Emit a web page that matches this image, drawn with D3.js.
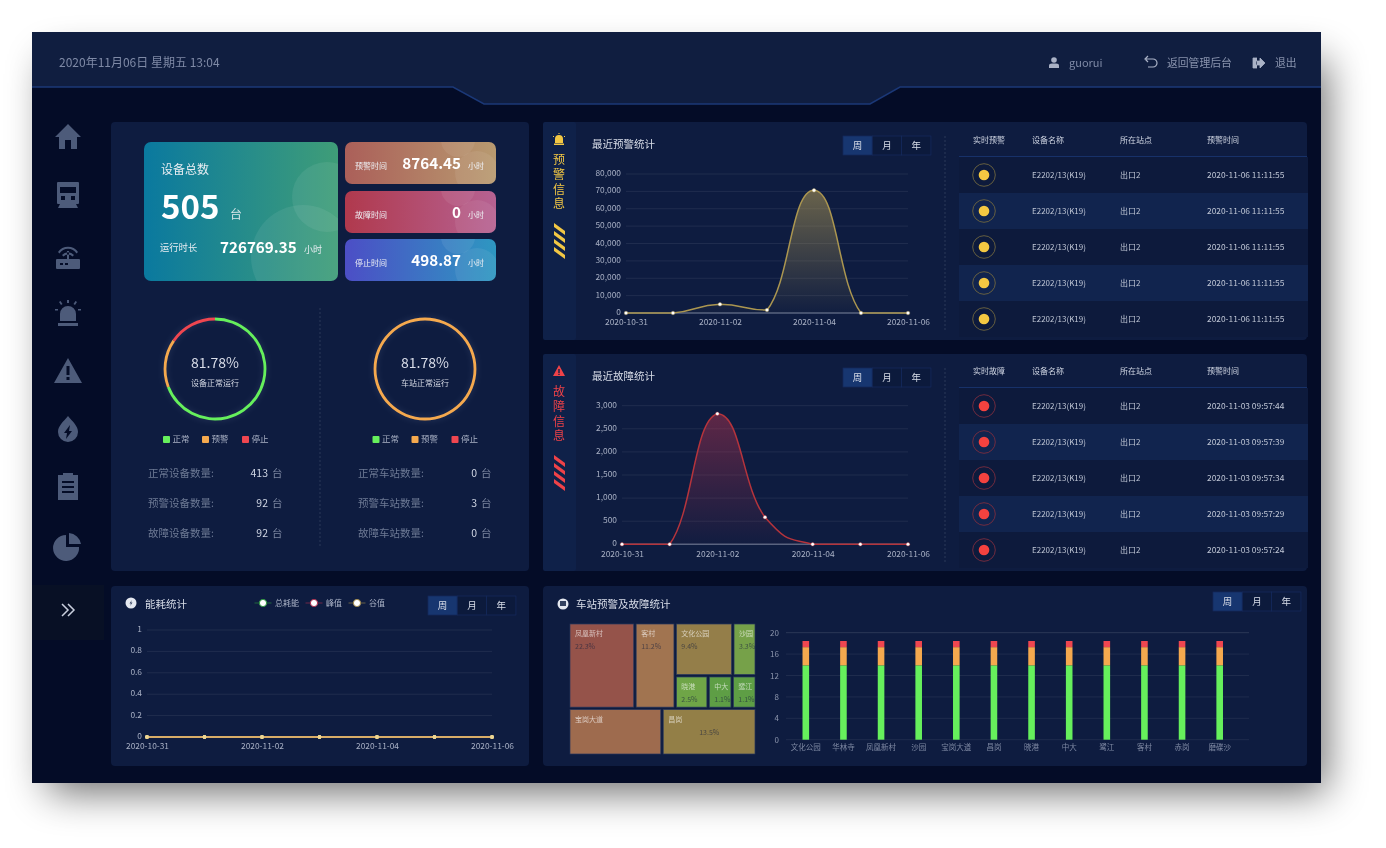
<!DOCTYPE html>
<html>
<head>
<meta charset="utf-8">
<script src="https://cdnjs.cloudflare.com/ajax/libs/d3/7.8.5/d3.min.js"></script>
<style>
html, body { margin: 0; background: #fff; overflow: hidden; }
svg { display: block; }
#page { filter: blur(0.5px); }
text { font-family: "Noto Sans CJK SC", "Noto Sans", sans-serif; }
</style>
</head>
<body>
<div id="root"></div>
<script>
const dates = ['2020-10-31', '2020-11-01', '2020-11-02', '2020-11-03', '2020-11-04', '2020-11-05', '2020-11-06'];
const dateTicks = ['2020-10-31', '2020-11-02', '2020-11-04', '2020-11-06'];

const alarmValues = [0, 0, 5000, 1700, 70600, 0, 0];
const faultValues = [0, 0, 2825, 585, 0, 0, 0];
const energyTotal = [0, 0, 0, 0, 0, 0, 0];
const energyPeak = [0, 0, 0, 0, 0, 0, 0];
const energyValley = [0, 0, 0, 0, 0, 0, 0];

const deviceStatus = [413, 92, 92];
const stationStatus = [0, 3, 0];
const statusNames = ['正常', '预警', '停止'];
const statusColors = ['#66f05c', '#f5a94e', '#ef4650'];

const deviceLabels = ['正常设备数量:', '预警设备数量:', '故障设备数量:'];
const stationLabels = ['正常车站数量:', '预警车站数量:', '故障车站数量:'];

const alarmTimes = ['2020-11-06 11:11:55', '2020-11-06 11:11:55', '2020-11-06 11:11:55', '2020-11-06 11:11:55', '2020-11-06 11:11:55'];
const faultTimes = ['2020-11-03 09:57:44', '2020-11-03 09:57:39', '2020-11-03 09:57:34', '2020-11-03 09:57:29', '2020-11-03 09:57:24'];

const stationNames = ['文化公园', '华林寺', '凤凰新村', '沙园', '宝岗大道', '昌岗', '晓港', '中大', '鹭江', '客村', '赤岗', '磨碟沙'];
const stackNormal = [13.9, 13.9, 13.9, 13.9, 13.9, 13.9, 13.9, 13.9, 13.9, 13.9, 13.9, 13.9];
const stackAlarm = [3.4, 3.4, 3.4, 3.4, 3.4, 3.4, 3.4, 3.4, 3.4, 3.4, 3.4, 3.4];
const stackStop = [1.15, 1.15, 1.15, 1.15, 1.15, 1.15, 1.15, 1.15, 1.15, 1.15, 1.15, 1.15];

// treemap: names, cell sizes as drawn, the percent written in each cell, fill
const treeNames = ['凤凰新村', '客村', '文化公园', '沙园', '晓港', '中大', '鹭江', '宝岗大道', '昌岗'];
const treeSizes = [5485, 3335, 2960, 1200, 1040, 760, 760, 4232, 4278];
const treePercents = ['22.3%', '11.2%', '9.4%', '3.3%', '2.5%', '1.1%', '1.1%', '', '13.5%'];
const treeColors = ['#95534a', '#a17450', '#947e49', '#76a149', '#6fa547', '#5e9e45', '#5e9e45', '#9e6b4e', '#937f47'];

const tickFont = 'Roboto, "Noto Sans", sans-serif';
const panelColor = '#0e1c40';
const iconColor = '#4d5b7a';

const svg = d3.select('#root').append('svg')
    .attr('width', 1386)
    .attr('height', 848);

const defs = svg.append('defs');

defs.append('filter').attr('id', 'shadow')
    .attr('x', '-15%').attr('y', '-20%').attr('width', '130%').attr('height', '140%')
    .append('feGaussianBlur').attr('stdDeviation', 20);
defs.append('filter').attr('id', 'glow')
    .attr('x', '-30%').attr('y', '-30%').attr('width', '160%').attr('height', '160%')
    .append('feGaussianBlur').attr('stdDeviation', 3);

function gradient(id, from, to, vertical) {
    const g = defs.append('linearGradient').attr('id', id)
        .attr('x1', 0).attr('y1', 0)
        .attr('x2', vertical ? 0 : 1).attr('y2', vertical ? 1 : 0);
    g.append('stop').attr('offset', 0).attr('stop-color', from[0]).attr('stop-opacity', from[1]);
    g.append('stop').attr('offset', 1).attr('stop-color', to[0]).attr('stop-opacity', to[1]);
}
gradient('cardMain', ['#0a799f', 1], ['#3f9d78', 1]);
gradient('cardAlarm', ['#ab5f59', 1], ['#b89a70', 1]);
gradient('cardFault', ['#b0394d', 1], ['#b66292', 1]);
gradient('cardStop', ['#4c4ec6', 1], ['#2e97c1', 1]);
gradient('areaAlarm', ['#b39c55', 0.55], ['#b39c55', 0.02], true);
gradient('areaFault', ['#c0354f', 0.45], ['#c0354f', 0.02], true);

// page frame: the shadow sits outside the slightly softened group
svg.append('rect').attr('x', 48).attr('y', 60).attr('width', 1278).attr('height', 732)
    .attr('fill', '#000').attr('opacity', 0.58).attr('filter', 'url(#shadow)');

const page = svg.append('g').attr('id', 'page');

function label(parent, x, y, str, size, color, anchor, weight) {
    return parent.append('text')
        .attr('x', x).attr('y', y)
        .attr('dy', '0.35em')
        .attr('font-size', size)
        .attr('fill', color)
        .attr('text-anchor', anchor || 'start')
        .attr('font-weight', weight || 400)
        .text(str);
}

function panel(x, y, w, h) {
    page.append('rect').attr('x', x).attr('y', y).attr('width', w).attr('height', h)
        .attr('rx', 4).attr('fill', panelColor);
}

page.append('rect').attr('x', 32).attr('y', 32).attr('width', 1289).attr('height', 751).attr('fill', '#040c27');

page.append('path')
    .attr('d', 'M32,32H1321V87H900L870,104H484L453,87H32Z')
    .attr('fill', '#101e40');
page.append('path')
    .attr('d', 'M32,87H453L484,104H870L900,87H1321')
    .attr('fill', 'none').attr('stroke', '#1b3877').attr('stroke-width', 1.5);

label(page, 59, 63, '2020年11月06日 星期五 13:04', 12, '#7f8aa6');

// header icons
const user = page.append('g').attr('transform', 'translate(1054,63)').attr('fill', '#aab2c6');
user.append('circle').attr('cy', -3).attr('r', 2.8);
user.append('path').attr('d', 'M-5,5V2.5Q-5,0.5 -2,0.5H2Q5,0.5 5,2.5V5Z');
label(page, 1069, 63, 'guorui', 11, '#7f8aa6');

page.append('path').attr('transform', 'translate(1151,63)')
    .attr('d', 'M-5,-4H2A4,4 0 0 1 2,4H-3M-3,-7L-6,-4L-3,-1')
    .attr('fill', 'none').attr('stroke', '#aab2c6').attr('stroke-width', 1.2);
label(page, 1167, 63, '返回管理后台', 10.8, '#8a94ae');

page.append('path').attr('transform', 'translate(1259,63)')
    .attr('d', 'M-2,-5H-6V5H-2M-3,-2H1V-5L6,0L1,5V2H-3Z')
    .attr('fill', '#aab2c6').attr('stroke', '#aab2c6').attr('stroke-width', 0.8);
label(page, 1275, 63, '退出', 10.8, '#8a94ae');

// sidebar icons
const icons = [
    { y: 137, d: 'M-13,0L0,-13L13,0H9V12H3V3H-3V12H-9V0Z' },
    { y: 195, d: 'M-10,-13H10Q11,-13 11,-12V8Q11,9 10,9H8L10,13H-10L-8,9H-10Q-11,9 -11,8V-12Q-11,-13 -10,-13ZM-8,-8V-2H8V-8ZM-7,1V5H-3V1ZM3,1V5H7V1Z' },
    { y: 255, d: 'M-11,4H11Q12,4 12,5V13Q12,14 11,14H-11Q-12,14 -12,13V5Q-12,4 -11,4ZM-8,8V10H-5V8ZM-3,8V10H0V8ZM-1,4V-4H1V4ZM-10,-3A12,12 0 0 1 10,-3L8.5,-1.5A10,10 0 0 0 -8.5,-1.5ZM-6,0A8,8 0 0 1 6,0L4.5,1.5A6,6 0 0 0 -4.5,1.5Z' },
    { y: 313, d: 'M-8,8V1A8,8 0 0 1 8,1V8ZM-10,10H10V13H-10ZM-1,-13H1V-10H-1ZM-13,-4H-10V-2.500H-13ZM10,-4H13V-2.500H10ZM-9,-11L-7.500,-12L-5.500,-9L-7,-8ZM9,-11L7.500,-12L5.500,-9L7,-8Z' },
    { y: 371, d: 'M0,-13L14,12H-14ZM-1.500,-5V4H1.500V-5ZM-1.500,6V9H1.500V6Z' },
    { y: 429, d: 'M0,-13C5,-7 10,-3 10,3A10,10 0 0 1 -10,3C-10,-3 -5,-7 0,-13ZM2,-4L-4,4H-1L-2,10L4,2H1Z' },
    { y: 487, d: 'M-10,-12H-5V-14H5V-12H10V13H-10ZM-6,-6V-4H6V-6ZM-6,-1V1H6V-1ZM-6,4V6H6V4Z' },
    { y: 546, d: 'M-2,-11V1H11A13,13 0 1 1 -2,-11ZM1,-13A13,13 0 0 1 13,-2H1Z' }
];
page.selectAll('path.nav').data(icons).enter().append('path')
    .attr('class', 'nav')
    .attr('transform', d => 'translate(68,' + d.y + ')')
    .attr('d', d => d.d)
    .attr('fill', iconColor)
    .attr('fill-rule', 'evenodd');

page.append('rect').attr('x', 32).attr('y', 585).attr('width', 72).attr('height', 55).attr('fill', '#081025');
page.append('path').attr('transform', 'translate(68,610)')
    .attr('d', 'M-6,-6L0,0L-6,6M0,-6L6,0L0,6')
    .attr('fill', 'none').attr('stroke', '#c9cfde').attr('stroke-width', 1.5);

// left panel
panel(111, 122, 418, 449);

function card(x, y, w, h, fill, circles) {
    const id = 'clip' + x + y;
    defs.append('clipPath').attr('id', id).append('rect')
        .attr('x', x).attr('y', y).attr('width', w).attr('height', h).attr('rx', 7);
    const g = page.append('g').attr('clip-path', 'url(#' + id + ')');
    g.append('rect').attr('x', x).attr('y', y).attr('width', w).attr('height', h).attr('fill', 'url(#' + fill + ')');
    circles.forEach(c => {
        g.append('circle').attr('cx', c[0]).attr('cy', c[1]).attr('r', c[2]).attr('fill', '#fff').attr('opacity', 0.07);
    });
}

card(144, 142, 194, 139, 'cardMain', [[327, 197, 35], [303, 257, 52]]);
label(page, 161, 170, '设备总数', 12, '#e8edf2');
page.append('text').attr('x', 161).attr('y', 219).attr('font-size', 33).attr('font-weight', 600).attr('fill', '#fff').text('505');
label(page, 230, 215, '台', 12, '#dce8ea');
label(page, 160, 248, '运行时长', 9.3, '#e8edf2');
label(page, 220, 248, '726769.35', 15.2, '#fff', 'start', 600);
label(page, 304, 250, '小时', 9, '#e8edf2');

const smallCards = [
    { y: 142, fill: 'cardAlarm', name: '预警时间', value: '8764.45' },
    { y: 191, fill: 'cardFault', name: '故障时间', value: '0' },
    { y: 239, fill: 'cardStop', name: '停止时间', value: '498.87' }
];
smallCards.forEach(c => {
    card(345, c.y, 151, 42, c.fill, [[458, c.y - 2, 17], [477, c.y + 31, 22]]);
    label(page, 355, c.y + 24, c.name, 8, '#eef0f4');
    label(page, 461, c.y + 22, c.value, 15.2, '#fff', 'end', 600);
    label(page, 468, c.y + 24, '小时', 8, '#eef0f4');
});

// rings and the numbers under them
function ring(cx, values, name) {
    const g = page.append('g').attr('transform', 'translate(' + cx + ',369)');
    const pie = d3.pie().sort(null);
    const arc = d3.arc().innerRadius(48.6).outerRadius(51.4);
    g.append('circle').attr('r', 50).attr('fill', 'none')
        .attr('stroke', '#8fa0c8').attr('stroke-width', 3).attr('opacity', 0.22).attr('filter', 'url(#glow)');
    g.selectAll('path').data(pie(values)).enter().append('path')
        .attr('d', arc)
        .attr('fill', (d, i) => statusColors[i]);
    label(g, 0, -6, '81.78%', 14, '#d8dce8', 'middle');
    label(g, 0, 14, name, 8, '#d4d9e4', 'middle');
}
ring(215, deviceStatus, '设备正常运行');
ring(425, stationStatus, '车站正常运行');

function statusLegend(dx) {
    const offsets = [163, 202, 242];
    statusNames.forEach((n, i) => {
        page.append('rect').attr('x', offsets[i] + dx).attr('y', 436).attr('width', 7).attr('height', 7)
            .attr('rx', 1).attr('fill', statusColors[i]);
        label(page, offsets[i] + dx + 9.5, 439, n, 8.5, '#a9b1c4');
    });
}
statusLegend(0);
statusLegend(209.5);

function statRows(labels, values, x, valueEnd) {
    const rowY = d3.scalePoint().domain(d3.range(labels.length)).range([473, 533]);
    labels.forEach((l, i) => {
        label(page, x, rowY(i), l, 10.5, '#6d7994');
        label(page, valueEnd, rowY(i), values[i], 10.5, '#d0d6e4', 'end');
        label(page, valueEnd + 4, rowY(i), '台', 10.5, '#7d88a2');
    });
}
statRows(deviceLabels, deviceStatus, 148, 268);
statRows(stationLabels, stationStatus, 358, 477);

page.append('line').attr('x1', 320).attr('x2', 320).attr('y1', 308).attr('y2', 548)
    .attr('stroke', '#2a3859').attr('stroke-dasharray', '2,2');

function buttons(x, y) {
    const names = ['周', '月', '年'];
    names.forEach((n, i) => {
        page.append('rect').attr('x', x + i * 29.3).attr('y', y).attr('width', 29.3).attr('height', 19)
            .attr('fill', i === 0 ? '#173670' : '#0c1a3c').attr('stroke', '#15295a').attr('stroke-width', 0.8);
        label(page, x + i * 29.3 + 14.6, y + 9.5, n, 9.5, '#d8dde8', 'middle');
    });
}

// smooth line in the manner of the original chart: half-way control points, clamped to the neighbours
function smoothPath(pts) {
    const p = d3.path();
    const clamp = (v, a, b) => Math.max(Math.min(a, b), Math.min(Math.max(a, b), v));
    const tan = i => {
        if (i === 0 || i === pts.length - 1) return [0, 0];
        return [(pts[i + 1][0] - pts[i - 1][0]) * 0.25, (pts[i + 1][1] - pts[i - 1][1]) * 0.25];
    };
    p.moveTo(pts[0][0], pts[0][1]);
    for (let i = 1; i < pts.length; i++) {
        const a = pts[i - 1], b = pts[i], ta = tan(i - 1), tb = tan(i);
        p.bezierCurveTo(a[0] + ta[0], clamp(a[1] + ta[1], a[1], b[1]),
            b[0] - tb[0], clamp(b[1] - tb[1], a[1], b[1]),
            b[0], b[1]);
    }
    return p.toString();
}

function gridAxes(x, y, yTicks, format, xLeft, xRight) {
    const gy = page.append('g').attr('transform', 'translate(' + (x.range()[0]) + ',-1.2)')
        .call(d3.axisLeft(y).tickValues(yTicks).tickFormat(format).tickSize(0).tickPadding(5));
    gy.select('.domain').remove();
    gy.selectAll('text').attr('fill', '#a8b0c4').attr('font-size', 8.4).attr('font-family', tickFont);
    yTicks.forEach(t => {
        page.append('line').attr('x1', xLeft).attr('x2', xRight).attr('y1', y(t)).attr('y2', y(t))
            .attr('stroke', t === 0 ? '#59637f' : '#ffffff')
            .attr('stroke-opacity', t === 0 ? 1 : 0.075)
            .attr('stroke-width', t === 0 ? 1.4 : 1);
    });
    const gx = page.append('g').attr('transform', 'translate(0,' + y(0) + ')')
        .call(d3.axisBottom(x).tickValues(dateTicks).tickSize(0).tickPadding(6.5));
    gx.select('.domain').remove();
    gx.selectAll('text').attr('fill', '#a8b0c4').attr('font-size', 8.4).attr('font-family', tickFont);
}

function areaChart(values, yMax, yStep, top, bottom, left, lineColor, areaId) {
    const x = d3.scalePoint().domain(dates).range([left, 908]);
    const y = d3.scaleLinear().domain([0, yMax]).range([bottom, top]);
    gridAxes(x, y, d3.range(0, yMax + 1, yStep), d3.format(','), left, 908);
    const pts = values.map((v, i) => [x(dates[i]), y(v)]);
    const line = smoothPath(pts);
    page.append('path')
        .attr('d', line + 'L' + x.range()[1] + ',' + y(0) + 'L' + x.range()[0] + ',' + y(0) + 'Z')
        .attr('fill', 'url(#' + areaId + ')');
    page.append('path').attr('d', line).attr('fill', 'none').attr('stroke', lineColor).attr('stroke-width', 1.5);
    page.selectAll(null).data(values).enter().append('circle')
        .attr('cx', (d, i) => x(dates[i]))
        .attr('cy', d => y(d))
        .attr('r', 1.8)
        .attr('fill', '#fff')
        .attr('stroke', lineColor)
        .attr('stroke-width', 0.4);
}

function hazard(y, color) {
    for (let i = 0; i < 4; i++) {
        const t = y + i * 8;
        page.append('path')
            .attr('d', 'M554,' + t + 'L565,' + (t + 8) + 'V' + (t + 12) + 'L554,' + (t + 4) + 'Z')
            .attr('fill', color);
    }
}

function table(top, rows, headName, dotColor, ringColor) {
    const h = top + 18;
    label(page, 973, h, headName, 8, '#cfd5e2');
    label(page, 1032, h, '设备名称', 8, '#cfd5e2');
    label(page, 1120, h, '所在站点', 8, '#cfd5e2');
    label(page, 1207, h, '预警时间', 8, '#cfd5e2');
    page.append('line').attr('x1', 959).attr('x2', 1307).attr('y1', top + 35).attr('y2', top + 35)
        .attr('stroke', '#1b3877').attr('stroke-width', 1.5);
    rows.forEach((t, i) => {
        const cy = top + 53 + i * 36;
        page.append('rect').attr('x', 959).attr('y', cy - 18).attr('width', 349).attr('height', 36)
            .attr('fill', i % 2 ? '#11244e' : '#0d1a3c');
        page.append('circle').attr('cx', 984).attr('cy', cy).attr('r', 11.3)
            .attr('fill', 'none').attr('stroke', ringColor).attr('stroke-width', 0.9);
        page.append('circle').attr('cx', 984).attr('cy', cy).attr('r', 5.3).attr('fill', dotColor);
        label(page, 1032, cy, 'E2202/13(K19)', 8, '#c0c7d6');
        label(page, 1120, cy, '出口2', 8, '#c0c7d6');
        label(page, 1207, cy, t, 8.4, '#c0c7d6');
    });
}

function infoPanel(top, height, opts) {
    panel(543, top, 764, height);
    page.append('rect').attr('x', 543).attr('y', top).attr('width', 33).attr('height', height)
        .attr('rx', 2).attr('fill', '#0f2149');
    opts.name.forEach((ch, i) => {
        label(page, 559, top + 38 + i * 14.7, ch, 12, opts.color, 'middle');
    });
    hazard(top + 101, opts.color);
    label(page, 592, top + 22, opts.title, 10.5, '#d8dde8');
    buttons(843, top + 14);
    page.append('line').attr('x1', 945).attr('x2', 945).attr('y1', top + 14).attr('y2', top + 210)
        .attr('stroke', '#2a3859').attr('stroke-dasharray', '2,2');
}

infoPanel(122, 218, { name: ['预', '警', '信', '息'], color: '#f2c744', title: '最近预警统计' });
page.append('path').attr('transform', 'translate(559,140)')
    .attr('d', 'M-4,3V-1A4,4 0 0 1 4,-1V3ZM-5,3.500H5V5H-5ZM-0.500,-7H0.500V-6H-0.500ZM-6,-4H-5V-3H-6ZM5,-4H6V-3H5Z')
    .attr('fill', '#f2c744');
areaChart(alarmValues, 80000, 10000, 174, 313, 626, '#ab9650', 'areaAlarm');
table(122, alarmTimes, '实时预警', '#f4c842', '#6e6540');

infoPanel(354, 217, { name: ['故', '障', '信', '息'], color: '#ef4248', title: '最近故障统计' });
page.append('path').attr('transform', 'translate(559,371)')
    .attr('d', 'M0,-6L6,5H-6ZM-0.700,-2V2H0.700V-2ZM-0.700,2.800V4H0.700V2.800Z')
    .attr('fill', '#ef4248').attr('fill-rule', 'evenodd');
areaChart(faultValues, 3000, 500, 405.7, 544.3, 622, '#b5343c', 'areaFault');
table(353, faultTimes, '实时故障', '#f4423f', '#7a2c3e');

// energy panel
panel(111, 586, 418, 180);
page.append('circle').attr('cx', 131).attr('cy', 603).attr('r', 5.5).attr('fill', '#e4e8f0');
page.append('path').attr('transform', 'translate(131,603)').attr('d', 'M0.800,-3L-1.500,0.500H0L-0.800,3L1.500,-0.500H0Z').attr('fill', '#33415f');
label(page, 145, 604, '能耗统计', 10.5, '#d8dde8');

const energyLegend = [
    { name: '总耗能', color: '#2e9a3e', x: 263 },
    { name: '峰值', color: '#b0304e', x: 314 },
    { name: '谷值', color: '#a38c4f', x: 357 }
];
energyLegend.forEach(l => {
    page.append('line').attr('x1', l.x - 8.5).attr('x2', l.x + 8.5).attr('y1', 603).attr('y2', 603)
        .attr('stroke', l.color).attr('stroke-opacity', 0.6);
    page.append('circle').attr('cx', l.x).attr('cy', 603).attr('r', 3.6)
        .attr('fill', '#fff').attr('stroke', l.color).attr('stroke-width', 1);
    label(page, l.x + 12, 603, l.name, 8, '#aab2c6');
});
buttons(428, 596);

const energyX = d3.scalePoint().domain(dates).range([147, 492]);
const energyY = d3.scaleLinear().domain([0, 1]).range([737, 630]);
gridAxes(energyX, energyY, [0, 0.2, 0.4, 0.6, 0.8, 1], d3.format(''), 147, 492);

[[energyTotal, '#42b354'], [energyPeak, '#c94d60'], [energyValley, '#e8c66a']].forEach(s => {
    const line = d3.line().x((d, i) => energyX(dates[i])).y(d => energyY(d));
    page.append('path').attr('d', line(s[0])).attr('fill', 'none').attr('stroke', s[1]).attr('stroke-width', 1.5);
    page.selectAll(null).data(s[0]).enter().append('circle')
        .attr('cx', (d, i) => energyX(dates[i]))
        .attr('cy', d => energyY(d))
        .attr('r', 1.9)
        .attr('fill', '#ecd592');
});

// station panel
panel(543, 586, 764, 180);
page.append('circle').attr('cx', 563).attr('cy', 604).attr('r', 5.5).attr('fill', '#e4e8f0');
page.append('rect').attr('x', 560).attr('y', 601).attr('width', 6).attr('height', 5).attr('fill', '#33415f');
label(page, 576, 604, '车站预警及故障统计', 10.5, '#d8dde8');
buttons(1213, 592);

// treemap cells nest as rows and columns, so slice and dice by depth
const treeLeaf = i => ({ name: treeNames[i], value: treeSizes[i], percent: treePercents[i], color: treeColors[i] });
const treeRoot = d3.hierarchy({
    children: [
        { children: [treeLeaf(0), treeLeaf(1), { children: [
            { children: [treeLeaf(2), treeLeaf(3)] },
            { children: [treeLeaf(4), treeLeaf(5), treeLeaf(6)] }
        ] }] },
        { children: [treeLeaf(7), treeLeaf(8)] }
    ]
}).sum(d => d.value || 0);

d3.treemap()
    .size([185, 130])
    .paddingInner(2.4)
    .tile((node, x0, y0, x1, y1) => (node.depth % 2 ? d3.treemapDice : d3.treemapSlice)(node, x0, y0, x1, y1))(treeRoot);

const tree = page.append('g').attr('transform', 'translate(570,624)');
const cells = tree.selectAll('g').data(treeRoot.leaves()).enter().append('g')
    .attr('transform', d => 'translate(' + d.x0 + ',' + d.y0 + ')');
cells.append('rect')
    .attr('width', d => d.x1 - d.x0)
    .attr('height', d => d.y1 - d.y0)
    .attr('fill', d => d.data.color)
    .attr('stroke', '#26365c')
    .attr('stroke-width', 0.7);
cells.append('text')
    .attr('x', 5).attr('y', 10).attr('dy', '0.35em')
    .attr('font-size', 7).attr('fill', 'rgba(255,255,255,0.62)')
    .text(d => d.data.name);
cells.append('text')
    .attr('x', d => d.data.name === '昌岗' ? 36 : 5).attr('y', 23).attr('dy', '0.35em')
    .attr('font-size', 7).attr('fill', 'rgba(25,32,62,0.62)')
    .text(d => d.data.percent);

// stacked bars
const stackX = d3.scaleBand().domain(stationNames).range([787, 1238.5]);
const stackY = d3.scaleLinear().domain([0, 20]).range([739.7, 632.7]);
const stackRows = stationNames.map((n, i) => ({ name: n, normal: stackNormal[i], alarm: stackAlarm[i], stop: stackStop[i] }));
const series = d3.stack().keys(['normal', 'alarm', 'stop'])(stackRows);

const stackAxis = page.append('g').attr('transform', 'translate(784,0)')
    .call(d3.axisLeft(stackY).tickValues([0, 4, 8, 12, 16, 20]).tickSize(0).tickPadding(5));
stackAxis.select('.domain').remove();
stackAxis.selectAll('text').attr('fill', '#8d96ad').attr('font-size', 8).attr('font-family', tickFont);
[0, 4, 8, 12, 16, 20].forEach(t => {
    page.append('line').attr('x1', 786).attr('x2', 1249).attr('y1', stackY(t)).attr('y2', stackY(t))
        .attr('stroke', '#fff').attr('stroke-opacity', t === 20 ? 0.12 : 0.07);
});

page.selectAll('g.stack').data(series).enter().append('g')
    .attr('class', 'stack')
    .attr('fill', (d, i) => statusColors[i])
    .selectAll('rect').data(d => d).enter().append('rect')
    .attr('x', d => stackX(d.data.name) + stackX.bandwidth() / 2 - 3.3)
    .attr('width', 6.6)
    .attr('y', d => stackY(d[1]))
    .attr('height', d => stackY(d[0]) - stackY(d[1]));

const stackLabels = page.append('g').attr('transform', 'translate(0,739.7)')
    .call(d3.axisBottom(stackX).tickSize(0).tickPadding(5));
stackLabels.select('.domain').remove();
stackLabels.selectAll('text').attr('fill', '#7f89a3').attr('font-size', 7.5).attr('font-family', '"Noto Sans CJK SC", sans-serif');
</script>
</body>
</html>
